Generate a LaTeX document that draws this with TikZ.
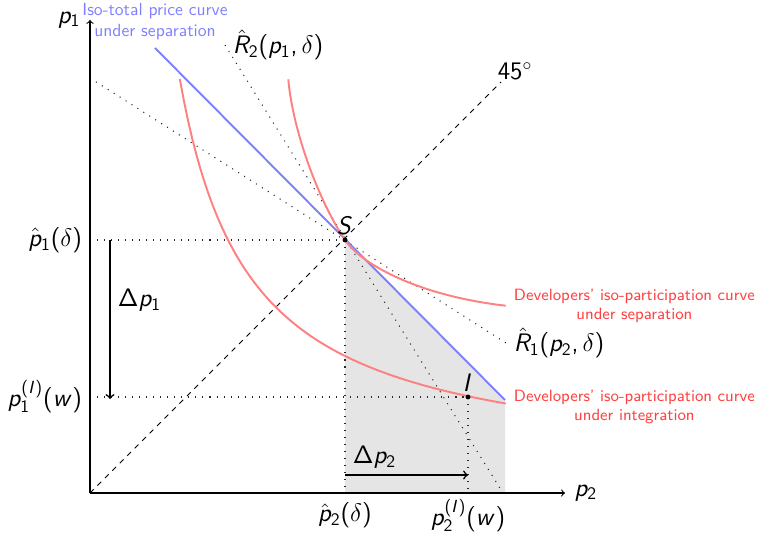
\documentclass[tikz,border=0pt]{standalone}
\usetikzlibrary{positioning, arrows}

% sans serif math letters and digits
\DeclareSymbolFont{sfitalic}{OT1}{cmss}{m}{sl}
\DeclareSymbolFont{sfupright}{OT1}{cmss}{m}{n}
\DeclareMathSymbol{p}{\mathalpha}{sfitalic}{`p}
\DeclareMathSymbol{w}{\mathalpha}{sfitalic}{`w}
\DeclareMathSymbol{I}{\mathalpha}{sfitalic}{`I}
\DeclareMathSymbol{S}{\mathalpha}{sfitalic}{`S}
\DeclareMathSymbol{R}{\mathalpha}{sfitalic}{`R}
\DeclareMathSymbol{1}{\mathalpha}{sfupright}{`1}
\DeclareMathSymbol{2}{\mathalpha}{sfupright}{`2}
\DeclareMathSymbol{4}{\mathalpha}{sfupright}{`4}
\DeclareMathSymbol{5}{\mathalpha}{sfupright}{`5}
\DeclareMathSymbol{(}{\mathopen}{sfupright}{`(}
\DeclareMathSymbol{)}{\mathclose}{sfupright}{`)}
\DeclareMathSymbol{,}{\mathpunct}{sfupright}{`,}
\DeclareMathSymbol{\Delta}{\mathalpha}{sfupright}{"01}

\begin{document}
\sffamily
\begin{tikzpicture}[
  x=0.02cm, y=0.02cm,
  every node/.style={font=\Large},
  >=to,
  axis/.style={->, line width=0.6pt},
  guide/.style={dash pattern=on 0.6pt off 3.4pt, line width=0.6pt, black!85},
  bluecurve/.style={blue!50, line width=1.1pt},
  redcurve/.style={red!50, line width=1.1pt},
  bluelabel/.style={font=\normalsize, text=blue!50, align=center, inner sep=0pt},
  redlabel/.style={font=\fontsize{9.3}{11}\selectfont, text=red!75, align=center, inner sep=1.5pt},
  shiftarrow/.style={->, line width=0.9pt}
]
\useasboundingbox (-90,-41) rectangle (671,493);

% Points
\coordinate (origin) at (0,0);
\coordinate (p1end) at (0,473);
\coordinate (p2end) at (475,0);
\coordinate (S) at (255,253);
\coordinate (I) at (378,96);
\coordinate (p1hat) at (0,253);
\coordinate (p2hat) at (255,0);
\coordinate (p1int) at (0,96);
\coordinate (p2int) at (378,0);
\coordinate (bluestart) at (65,445);
\coordinate (blueend) at (415,93);
\coordinate (gridcorner) at (415,0);
\coordinate (r1start) at (0,415);
\coordinate (r1end) at (416,150);
\coordinate (r2start) at (135,448);
\coordinate (r2end) at (413,0);
\coordinate (diagend) at (411,411);
\coordinate (sepstart) at (198.3,413.7);
\coordinate (sepend) at (415.7,187.3);
\coordinate (intend) at (415.7,86);
\coordinate (d1start) at (20,253);
\coordinate (d1end) at (20,94);
\coordinate (d1mid) at (20,193);
\coordinate (d2start) at (255,18);
\coordinate (d2end) at (378,18);

% Shaded area
\fill[gray!20] (S) -- (blueend) -- (gridcorner) -- (p2hat) -- cycle;

% Guides
\draw[guide] (p1hat) -- (S);
\draw[guide] (S) -- (p2hat);
\draw[guide] (p1int) -- (I);
\draw[guide] (I) -- (p2int);
\draw[guide] (r1start) -- (r1end);
\draw[guide] (r2start) -- (r2end);
\draw[dashed, line width=0.6pt] (origin) -- (diagend);

% Curves
\draw[bluecurve] (bluestart) -- (blueend);
\draw[redcurve] (sepstart) .. controls (203,360) and (230,290) .. (S)
  .. controls (272,228) and (330,197) .. (sepend);
\draw[redcurve] plot[domain=89.8:415.7, samples=80] (\x, {20+275/((\x-20)/100)});

% Axes
\draw[axis] (origin) -- (p1end);
\draw[axis] (origin) -- (p2end);

% Equilibria
\fill (S) circle[radius=1.4pt];
\fill (I) circle[radius=1.4pt];
\node[above=2pt of S, inner sep=1pt] (Slabel) {$S$};
\node[above=2pt of I, inner sep=1pt] (Ilabel) {$I$};

% Shifts
\draw[shiftarrow] (d1start) -- (d1end);
\draw[shiftarrow] (d2start) -- (d2end);
\node[right=1pt of d1mid] (dp1) {$\Delta p_1$};
\node[above right=0pt and 1pt of d2start] (dp2) {$\Delta p_2$};

% Labels
\node[left=2pt of p1end] (p1label) {$p_1$};
\node[right=2pt of p2end] (p2label) {$p_2$};
\node[left=1pt of p1hat] (p1hatlabel) {$\hat{p}_1(\delta)$};
\node[left=1pt of p1int] (p1intlabel) {$p_1^{(I)}(w)$};
\node[below=2pt of p2hat] (p2hatlabel) {$\hat{p}_2(\delta)$};
\node[below=0pt of p2int] (p2intlabel) {$p_2^{(I)}(w)$};
\node[anchor=south west, inner sep=1pt, xshift=-3pt] (deg) at (diagend) {$45^\circ$};
\node[right=1pt of r1end] (r1label) {$\hat{R}_1(p_2,\delta)$};
\node[right=1pt of r2start] (r2label) {$\hat{R}_2(p_1,\delta)$};
\node[bluelabel] (isototal) at (65,471) {Iso-total price curve\\under separation};
\node[redlabel, right=3pt of sepend] (seplabel) {Developers' iso-participation curve\\under separation};
\node[redlabel, right=3pt of intend] (intlabel) {Developers' iso-participation curve\\under integration};

\end{tikzpicture}
\end{document}
